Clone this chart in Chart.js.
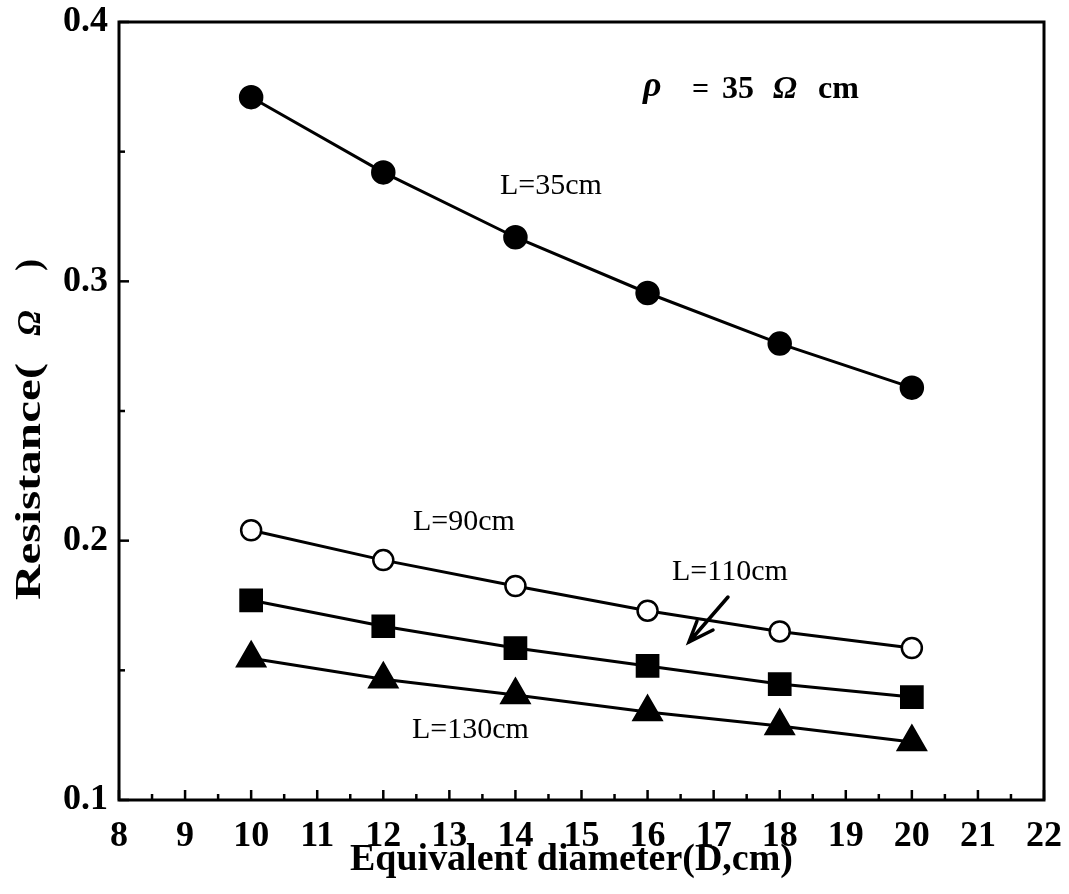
<!DOCTYPE html>
<html>
<head>
<meta charset="utf-8">
<script src="https://cdn.jsdelivr.net/npm/chart.js@4/dist/chart.umd.min.js"></script>
<style>
  html, body { margin: 0; background: #fff; }
</style>
</head>
<body>
<canvas id="chart" width="1069" height="894"></canvas>
<script>
  // values
  const diameters = [10, 12, 14, 16, 18, 20];
  const resL35 = [0.371, 0.342, 0.317, 0.2955, 0.276, 0.259];
  const resL90 = [0.204, 0.1925, 0.1825, 0.173, 0.165, 0.1586];
  const resL110 = [0.177, 0.167, 0.1586, 0.1517, 0.1447, 0.1397];
  const resL130 = [0.1547, 0.1466, 0.1405, 0.1339, 0.1285, 0.1224];
  const yTickLabels = ['0.1', '0.2', '0.3', '0.4'];

  const serif = '"Liberation Serif", "Times New Roman", serif';

  const toPoints = (ys) => diameters.map((x, i) => ({ x, y: ys[i] }));

  const makeSet = (label, ys, style, radius, fill) => ({
    label,
    data: toPoints(ys),
    showLine: true,
    borderColor: '#000',
    borderWidth: 3,
    pointStyle: style,
    pointRadius: radius,
    pointHoverRadius: radius,
    pointBackgroundColor: fill,
    pointBorderColor: '#000',
    pointBorderWidth: 2.5
  });

  // text squeezed or stretched to the width it has in the scan
  const fitText = (ctx, text, font, width) => {
    ctx.font = font;
    const w = ctx.measureText(text).width;
    ctx.save();
    ctx.scale(width / w, 1);
    ctx.fillText(text, 0, 0);
    ctx.restore();
  };

  // inward ticks, frame and the text notes
  const paperPlugin = {
    id: 'paper',
    afterDraw(chart) {
      const { ctx, chartArea: a, scales: { x, y } } = chart;
      ctx.save();
      ctx.strokeStyle = '#000';
      ctx.lineWidth = 3;
      ctx.strokeRect(a.left, a.top, a.right - a.left, a.bottom - a.top);

      ctx.lineWidth = 2.5;
      x.ticks.forEach((t) => {
        const px = x.getPixelForValue(t.value);
        const len = Number.isInteger(t.value) ? 10 : 6;
        ctx.beginPath();
        ctx.moveTo(px, a.bottom);
        ctx.lineTo(px, a.bottom - len);
        ctx.stroke();
      });
      y.ticks.forEach((t) => {
        const py = y.getPixelForValue(t.value);
        const len = Math.round(t.value * 20) % 2 === 0 ? 10 : 6;
        ctx.beginPath();
        ctx.moveTo(a.left, py);
        ctx.lineTo(a.left + len, py);
        ctx.stroke();
      });

      ctx.fillStyle = '#000';
      ctx.textBaseline = 'middle';

      // y axis title
      ctx.save();
      ctx.translate(31, 600);
      ctx.rotate(-Math.PI / 2);
      ctx.textAlign = 'left';
      fitText(ctx, 'Resistance(', `bold 36px ${serif}`, 237);
      ctx.textAlign = 'center';
      ctx.font = `bold italic 34px ${serif}`;
      ctx.fillText('Ω', 277, 0);
      ctx.font = `bold 36px ${serif}`;
      ctx.fillText(')', 335, 0);
      ctx.restore();

      // x axis title
      ctx.save();
      ctx.translate(350, 860);
      ctx.textAlign = 'left';
      fitText(ctx, 'Equivalent diameter(D,cm)', `bold 38px ${serif}`, 443);
      ctx.restore();

      ctx.textAlign = 'left';

      // rho note
      ctx.font = `bold italic 36px ${serif}`;
      ctx.fillText('ρ', 643, 87);
      ctx.font = `bold 30px ${serif}`;
      ctx.fillText('=', 692, 90);
      ctx.font = `bold 32px ${serif}`;
      ctx.fillText('35', 722, 90);
      ctx.font = `bold italic 32px ${serif}`;
      ctx.fillText('Ω', 773, 90);
      ctx.font = `bold 32px ${serif}`;
      ctx.fillText('cm', 818, 90);

      ctx.font = `30px ${serif}`;
      ctx.fillText('L=35cm', 500, 186);
      ctx.fillText('L=90cm', 413, 522);
      ctx.fillText('L=110cm', 672, 572);
      ctx.fillText('L=130cm', 412, 730);

      // arrow pointing at the L=110cm line
      ctx.lineWidth = 3.5;
      ctx.lineCap = 'round';
      ctx.beginPath();
      ctx.moveTo(728, 597);
      ctx.lineTo(689, 642);
      ctx.moveTo(697, 621);
      ctx.lineTo(689, 642);
      ctx.lineTo(713, 630);
      ctx.stroke();
      ctx.restore();
    }
  };

  new Chart(document.getElementById('chart'), {
    type: 'scatter',
    data: {
      datasets: [
        makeSet('L=35cm', resL35, 'circle', 11, '#000'),
        makeSet('L=90cm', resL90, 'circle', 10, '#fff'),
        makeSet('L=110cm', resL110, 'rect', 15, '#000'),
        makeSet('L=130cm', resL130, 'triangle', 16, '#000')
      ]
    },
    options: {
      responsive: false,
      animation: false,
      layout: { padding: { left: 0, top: 22, right: 25, bottom: 0 } },
      plugins: {
        legend: { display: false },
        tooltip: { enabled: false }
      },
      scales: {
        x: {
          type: 'linear',
          min: 8,
          max: 22,
          afterFit: (scale) => {
            scale.height = 94;
            scale.paddingLeft = 0;
            scale.paddingRight = 0;
          },
          grid: { display: false, drawTicks: false },
          border: { display: false },
          ticks: {
            stepSize: 0.5,
            padding: 15,
            color: '#000',
            font: { family: serif, size: 36, weight: 'bold' },
            maxRotation: 0,
            autoSkip: false,
            callback: (v) => Number.isInteger(v) ? String(v) : ''
          }
        },
        y: {
          type: 'linear',
          min: 0.1,
          max: 0.4,
          afterFit: (scale) => {
            scale.width = 119;
            scale.paddingTop = 0;
            scale.paddingBottom = 0;
          },
          grid: { display: false, drawTicks: false },
          border: { display: false },
          ticks: {
            stepSize: 0.05,
            padding: 11,
            color: '#000',
            font: { family: serif, size: 36, weight: 'bold' },
            autoSkip: false,
            callback: (v) => {
              const k = Math.round(v * 20);
              return k % 2 === 0 ? yTickLabels[k / 2 - 1] : '';
            }
          }
        }
      }
    },
    plugins: [paperPlugin]
  });
</script>
</body>
</html>
